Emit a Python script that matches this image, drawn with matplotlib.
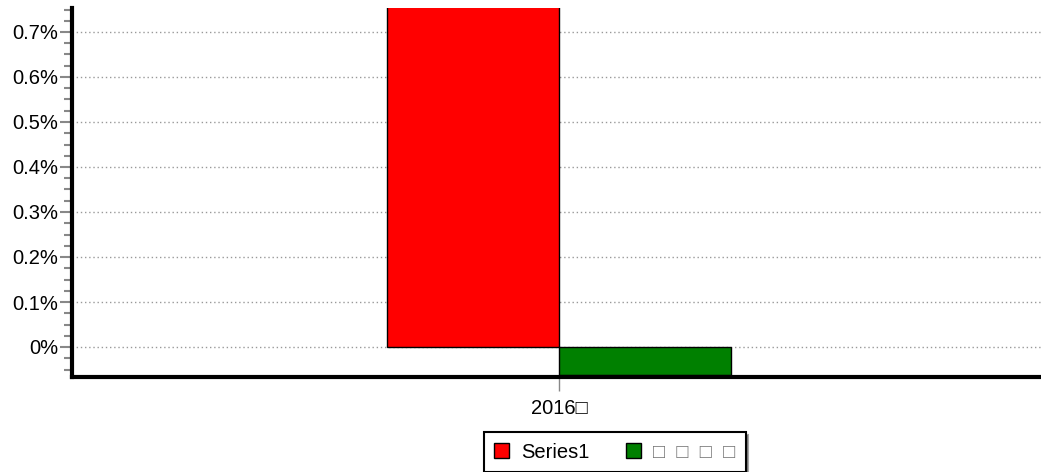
import matplotlib
matplotlib.use("Agg")
import matplotlib.pyplot as plt
from matplotlib.ticker import MultipleLocator, FuncFormatter
import numpy as np

plt.rcParams['font.family'] = ['Liberation Sans', 'DejaVu Sans']

categories = ["2016\u25a1"]
series_names = ["Series1", "\u25a1  \u25a1  \u25a1  \u25a1"]
series_values = [[0.80], [-0.062]]   # percent
series_colors = ["#ff0000", "#008000"]

fig = plt.figure(figsize=(10.41, 4.72), dpi=100)
ax = fig.add_axes([72/1041, 1 - 377/472, 1 - 72/1041, (377 - 8)/472])

x = np.arange(len(categories))
width = 0.1775
handles = []
for i, (name, vals, col) in enumerate(zip(series_names, series_values, series_colors)):
    b = ax.bar(x + (i - 0.5) * width, vals, width, color=col, edgecolor='black',
               linewidth=1, label=name, zorder=3)
    handles.append(b)

ax.set_xlim(-0.503, 0.497)
ax.set_ylim(-30/45*0.1, 339/45*0.1)

ax.set_xticks(x)
ax.set_xticklabels(categories, fontsize=14.5)
ax.yaxis.set_major_locator(MultipleLocator(0.1))
ax.yaxis.set_minor_locator(MultipleLocator(0.025))
ax.yaxis.set_major_formatter(FuncFormatter(lambda v, p: "{:g}%".format(round(v, 3))))
ax.tick_params(axis='y', which='major', length=9, width=1.5, color='#888888', labelsize=14.5, pad=1)
ax.tick_params(axis='y', which='minor', length=6, width=1.5, color='#888888')
ax.tick_params(axis='x', which='major', length=10, width=1, color='#888888', labelsize=14.5, pad=6)

ax.grid(axis='y', which='major', linestyle=(0, (1, 2)), color='#999999', linewidth=1, zorder=0)
ax.set_axisbelow(True)

for s in ['top', 'right']:
    ax.spines[s].set_visible(False)
ax.spines['left'].set_linewidth(3)
ax.spines['bottom'].set_linewidth(3)
ax.spines['bottom'].set_zorder(4)

leg = fig.legend(handles=handles, labels=series_names, loc='center', bbox_to_anchor=(615/1041, 1 - 452/472),
                 ncol=2, frameon=True, fancybox=False, shadow=True, edgecolor='black', fontsize=14.5,
                 handlelength=0.75, handleheight=0.75, handletextpad=0.6, columnspacing=1.8, borderpad=0.5)
leg.get_frame().set_linewidth(1.5)
leg.get_texts()[1].set_color('#777777')

fig.savefig("out.png", dpi=100)
